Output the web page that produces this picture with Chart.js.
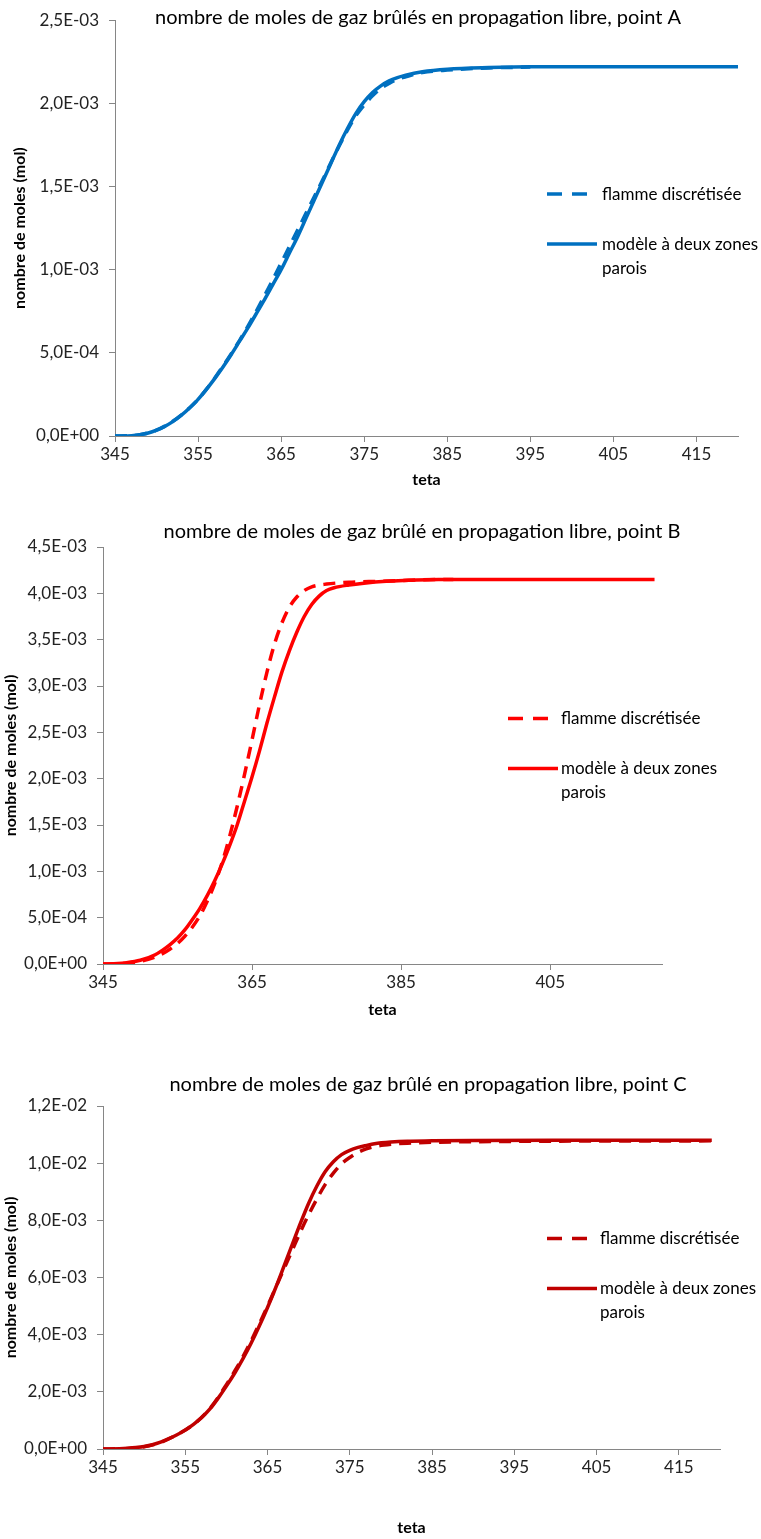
<!DOCTYPE html>
<html>
<head>
<meta charset="utf-8">
<title>nombre de moles de gaz brûlés</title>
<script src="https://cdn.jsdelivr.net/npm/chart.js@4.4.1/dist/chart.umd.min.js"></script>
<style>
    html, body { margin: 0; padding: 0; background: #fff; overflow: hidden; }
    .chart-box { position: absolute; left: 0; width: 761px; }
</style>
</head>
<body>
<div class="chart-box" style="top:0;height:500px"><canvas id="chartA"></canvas></div>
<div class="chart-box" style="top:500px;height:530px"><canvas id="chartB"></canvas></div>
<div class="chart-box" style="top:1030px;height:509px"><canvas id="chartC"></canvas></div>
<script>
// ---- data (values in mmol, shown on the axis as mol) ----
const legendFlamme = ['flamme discrétisée'];
const legendModele = ['modèle à deux zones', 'parois'];

// point A
const tetaFlammeA = [345, 347, 348, 350, 352, 354, 355, 356, 358, 360, 362, 364, 365, 366, 367, 368, 369, 370, 371, 372, 373, 374, 375, 376, 377, 378, 379, 380, 382, 385, 390, 395];
const flammeA     = [0, 0.002, 0.008, 0.035, 0.09, 0.17, 0.22, 0.28, 0.42, 0.575, 0.75, 0.94, 1.04, 1.14, 1.24, 1.34, 1.44, 1.54, 1.645, 1.745, 1.84, 1.925, 1.99, 2.045, 2.09, 2.12, 2.145, 2.16, 2.185, 2.2, 2.213, 2.218];
const tetaModeleA = [345, 346, 347, 348, 349, 350, 351, 352, 353, 354, 355, 356, 357, 358, 359, 360, 361, 362, 363, 364, 365, 366, 367, 368, 369, 370, 371, 372, 373, 374, 375, 376, 377, 378, 379, 380, 382, 385, 390, 395, 400, 420];
const modeleA     = [0, 0, 0.002, 0.008, 0.018, 0.035, 0.058, 0.088, 0.125, 0.17, 0.22, 0.28, 0.345, 0.415, 0.49, 0.57, 0.65, 0.735, 0.82, 0.91, 1.0, 1.1, 1.2, 1.31, 1.42, 1.53, 1.64, 1.75, 1.85, 1.94, 2.01, 2.065, 2.105, 2.135, 2.155, 2.17, 2.19, 2.205, 2.215, 2.22, 2.22, 2.22];
const xTicksA = [345, 355, 365, 375, 385, 395, 405, 415];
const yTicksA = [0, 0.5, 1, 1.5, 2, 2.5];
const yLabelsA = ['0,0E+00', '5,0E-04', '1,0E-03', '1,5E-03', '2,0E-03', '2,5E-03'];

// point B
const tetaFlammeB = [345, 347, 348, 350, 352, 354, 356, 358, 359, 360, 361, 362, 363, 364, 365, 366, 367, 368, 369, 370, 371, 372, 373, 375, 378, 382, 386, 390, 392];
const flammeB     = [0, 0.003, 0.008, 0.03, 0.075, 0.16, 0.3, 0.52, 0.68, 0.87, 1.1, 1.38, 1.7, 2.05, 2.42, 2.8, 3.15, 3.45, 3.68, 3.85, 3.96, 4.03, 4.07, 4.1, 4.12, 4.13, 4.14, 4.15, 4.15];
const tetaModeleB = [345, 347, 348, 350, 352, 353, 354, 355, 356, 357, 358, 359, 360, 361, 362, 363, 364, 365, 366, 367, 368, 369, 370, 371, 372, 373, 374, 375, 376, 378, 380, 383, 386, 390, 400, 419];
const modeleB     = [0, 0.005, 0.012, 0.04, 0.1, 0.15, 0.21, 0.28, 0.37, 0.48, 0.6, 0.74, 0.9, 1.08, 1.28, 1.5, 1.76, 2.02, 2.3, 2.6, 2.88, 3.15, 3.38, 3.58, 3.75, 3.88, 3.97, 4.03, 4.06, 4.09, 4.11, 4.13, 4.14, 4.15, 4.15, 4.15];
const xTicksB = [345, 365, 385, 405];
const yTicksB = [0, 0.5, 1, 1.5, 2, 2.5, 3, 3.5, 4, 4.5];
const yLabelsB = ['0,0E+00', '5,0E-04', '1,0E-03', '1,5E-03', '2,0E-03', '2,5E-03', '3,0E-03', '3,5E-03', '4,0E-03', '4,5E-03'];

// point C
const tetaFlammeC = [345, 348, 350, 352, 354, 356, 358, 360, 361, 362, 363, 364, 365, 366, 367, 368, 369, 370, 371, 372, 373, 374, 375, 376, 377, 378, 380, 382, 385, 390, 400, 419];
const flammeC     = [0, 0.02, 0.08, 0.23, 0.5, 0.86, 1.42, 2.25, 2.72, 3.22, 3.78, 4.38, 5.0, 5.65, 6.3, 6.95, 7.6, 8.2, 8.75, 9.25, 9.65, 9.98, 10.2, 10.38, 10.5, 10.58, 10.66, 10.7, 10.73, 10.75, 10.77, 10.78];
const tetaModeleC = [345, 347, 348, 349, 350, 351, 352, 353, 354, 355, 356, 357, 358, 359, 360, 361, 362, 363, 364, 365, 366, 367, 368, 369, 370, 371, 372, 373, 374, 375, 376, 377, 378, 380, 382, 385, 390, 400, 419];
const modeleC     = [0, 0.01, 0.025, 0.05, 0.09, 0.15, 0.24, 0.36, 0.5, 0.66, 0.86, 1.1, 1.4, 1.78, 2.2, 2.65, 3.15, 3.7, 4.3, 4.95, 5.65, 6.4, 7.15, 7.9, 8.6, 9.2, 9.7, 10.05, 10.3, 10.45, 10.55, 10.62, 10.68, 10.74, 10.77, 10.78, 10.79, 10.8, 10.8];
const xTicksC = [345, 355, 365, 375, 385, 395, 405, 415];
const yTicksC = [0, 2, 4, 6, 8, 10, 12];
const yLabelsC = ['0,0E+00', '2,0E-03', '4,0E-03', '6,0E-03', '8,0E-03', '1,0E-02', '1,2E-02'];

// ---- helpers ----
const FONT = 'Lato, "Open Sans", sans-serif';
const AXIS_GREY = '#868686';

Chart.defaults.font.family = FONT;
Chart.defaults.color = '#222';

function toPoints(xs, ys) {
    return xs.map((x, i) => ({ x: x, y: ys[i] }));
}

// draws the title and the in-plot legend like the Excel original
const excelDecor = {
    id: 'excelDecor',
    afterDraw(chart, args, opts) {
        const ctx = chart.ctx;
        const area = chart.chartArea;
        ctx.save();
        ctx.fillStyle = '#000';
        ctx.textBaseline = 'middle';
        ctx.textAlign = 'center';
        ctx.font = '20px ' + FONT;
        ctx.fillText(opts.title, opts.titleX, opts.titleY);

        const mid = (area.top + area.bottom) / 2;
        ctx.textAlign = 'left';
        ctx.font = '17px ' + FONT;
        chart.data.datasets.forEach((ds, i) => {
            const y = mid + opts.rows[i];
            ctx.strokeStyle = ds.borderColor;
            ctx.lineWidth = ds.borderWidth;
            ctx.setLineDash(ds.borderDash ? [15, 10] : []);
            ctx.beginPath();
            ctx.moveTo(opts.lineX, y);
            ctx.lineTo(opts.lineX + 50, y);
            ctx.stroke();
            ctx.setLineDash([]);
            opts.legend[i].forEach((t, k) => ctx.fillText(t, opts.textX, y + k * 24));
        });
        ctx.restore();
    }
};

function makeChart(id, c) {
    const axisGrid = { display: true, drawOnChartArea: false, drawTicks: true, tickLength: 6, color: AXIS_GREY, lineWidth: 1 };
    const axisBorder = { display: true, color: AXIS_GREY, width: 1 };
    return new Chart(document.getElementById(id), {
        type: 'line',
        data: {
            datasets: [
                {
                    label: 'flamme discrétisée',
                    data: toPoints(c.tetaFlamme, c.flamme),
                    borderColor: c.color,
                    borderWidth: 3.5,
                    borderDash: [12, 8],
                    pointRadius: 0,
                    cubicInterpolationMode: 'monotone',
                    fill: false
                },
                {
                    label: 'modèle à deux zones parois',
                    data: toPoints(c.tetaModele, c.modele),
                    borderColor: c.color,
                    borderWidth: 3.5,
                    pointRadius: 0,
                    cubicInterpolationMode: 'monotone',
                    fill: false
                }
            ]
        },
        options: {
            responsive: true,
            maintainAspectRatio: false,
            animation: false,
            devicePixelRatio: 1,
            layout: { padding: { top: c.plotTop, right: 761 - c.plotRight, left: 0, bottom: 0 } },
            plugins: {
                legend: { display: false },
                tooltip: { enabled: false },
                title: { display: false },
                excelDecor: {
                    title: c.title, titleX: c.titleX, titleY: c.titleY,
                    lineX: c.lineX, textX: c.textX, rows: c.rows,
                    legend: [legendFlamme, legendModele]
                }
            },
            scales: {
                x: {
                    type: 'linear',
                    min: 345,
                    max: 420,
                    grid: axisGrid,
                    border: axisBorder,
                    afterBuildTicks: s => { s.ticks = c.xTicks.map(v => ({ value: v })); },
                    afterFit: s => { s.height = c.H - c.plotBottom; },
                    ticks: { autoSkip: false, maxRotation: 0, padding: 2, font: { size: 17 }, callback: v => String(v) },
                    title: { display: true, text: 'teta', color: '#000', font: { size: 16, weight: 'bold' }, padding: { top: 0, bottom: c.tetaPad } }
                },
                y: {
                    type: 'linear',
                    min: 0,
                    max: c.yTicks[c.yTicks.length - 1],
                    grid: axisGrid,
                    border: axisBorder,
                    afterBuildTicks: s => { s.ticks = c.yTicks.map(v => ({ value: v })); },
                    afterFit: s => { s.width = c.plotLeft; },
                    ticks: { autoSkip: false, padding: 10, font: { size: 17 }, callback: (v, i) => c.yLabels[i] },
                    title: { display: true, text: 'nombre de moles (mol)', color: '#000', font: { size: 16, weight: 'bold' }, padding: { top: c.yTitlePad, bottom: 0 } }
                }
            }
        },
        plugins: [excelDecor]
    });
}

document.addEventListener('DOMContentLoaded', () => {
    makeChart('chartA', {
        tetaFlamme: tetaFlammeA, flamme: flammeA, tetaModele: tetaModeleA, modele: modeleA,
        xTicks: xTicksA, yTicks: yTicksA, yLabels: yLabelsA, color: '#0070C0',
        H: 500, plotTop: 14, plotBottom: 436, plotLeft: 115, plotRight: 738,
        title: 'nombre de moles de gaz brûlés en propagation libre, point A', titleX: 418, titleY: 18,
        yTitlePad: 10, tetaPad: 11, lineX: 547, textX: 602, rows: [-34, 16]
    });
    makeChart('chartB', {
        tetaFlamme: tetaFlammeB, flamme: flammeB, tetaModele: tetaModeleB, modele: modeleB,
        xTicks: xTicksB, yTicks: yTicksB, yLabels: yLabelsB, color: '#FF0000',
        H: 530, plotTop: 47, plotBottom: 464, plotLeft: 103, plotRight: 662,
        title: 'nombre de moles de gaz brûlé en propagation libre, point B', titleX: 422, titleY: 32,
        yTitlePad: 1, tetaPad: 11, lineX: 508, textX: 561, rows: [-37, 13]
    });
    makeChart('chartC', {
        tetaFlamme: tetaFlammeC, flamme: flammeC, tetaModele: tetaModeleC, modele: modeleC,
        xTicks: xTicksC, yTicks: yTicksC, yLabels: yLabelsC, color: '#C00000',
        H: 509, plotTop: 76, plotBottom: 419, plotLeft: 103, plotRight: 720,
        title: 'nombre de moles de gaz brûlé en propagation libre, point C', titleX: 428, titleY: 55,
        yTitlePad: 1, tetaPad: 2, lineX: 547, textX: 600, rows: [-39, 11]
    });
});
</script>
</body>
</html>
